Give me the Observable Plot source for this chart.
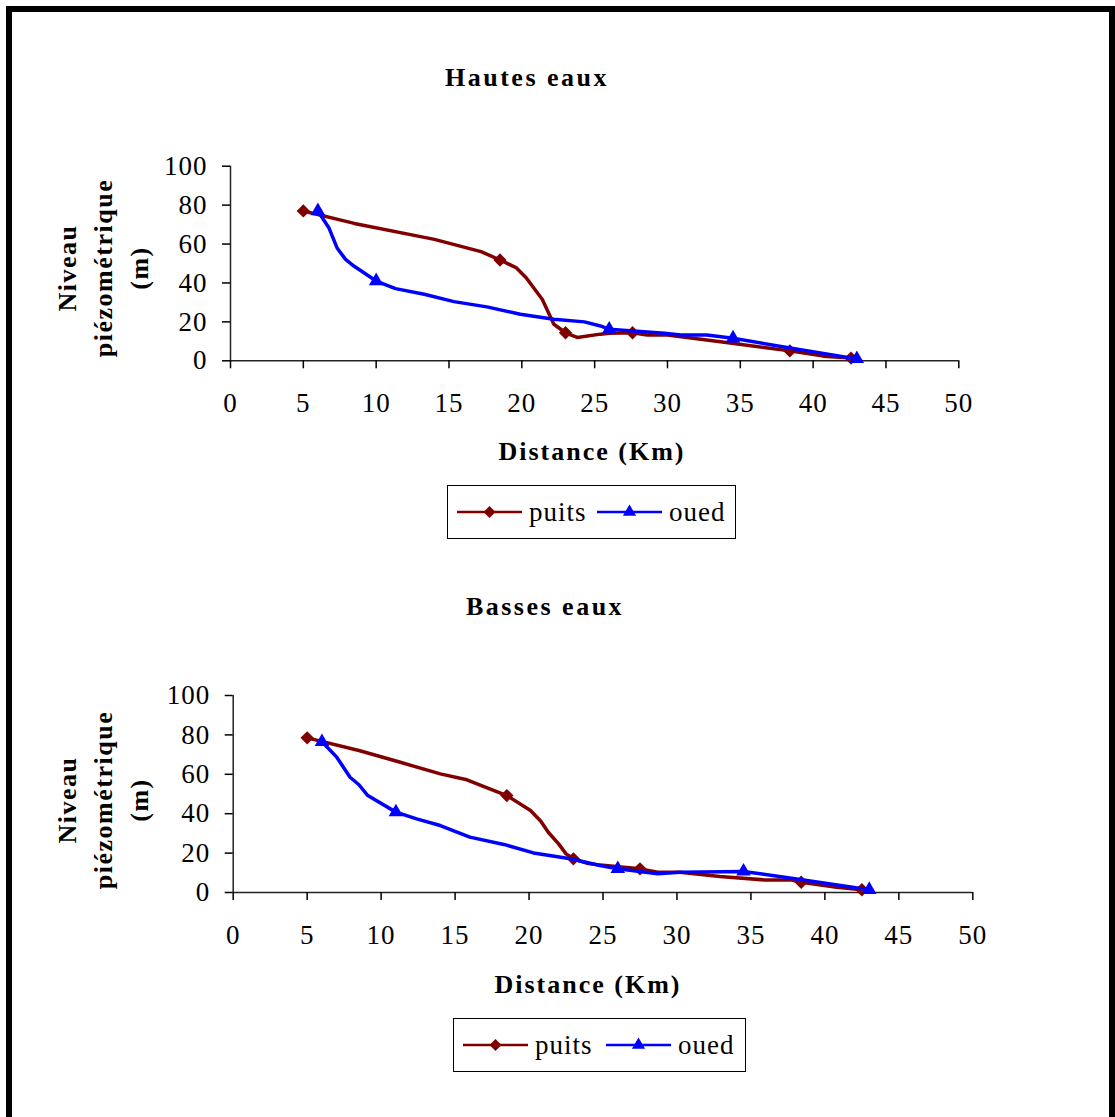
<!DOCTYPE html>
<html>
<head>
<meta charset="utf-8">
<script src="https://cdn.jsdelivr.net/npm/d3@7"></script>
<script src="https://cdn.jsdelivr.net/npm/@observablehq/plot@0.6"></script>
<style>
  html, body { margin: 0; padding: 0; background: white; }
  #page { position: relative; width: 1115px; height: 1117px; overflow: hidden; background: white;
          font-family: 'Liberation Serif', 'Times New Roman', serif; color: black; }
  #frame { position: absolute; left: 6px; top: 6px; width: 1109px; height: 1140px; box-sizing: border-box;
           border: 6px solid black; }
  .plotbox { position: absolute; left: 0; }
  .title { position: absolute; transform: translateX(-50%); font-weight: bold; font-size: 26px;
           letter-spacing: 2.5px; line-height: 1; white-space: nowrap; }
  .xlabel { position: absolute; transform: translateX(-50%); font-weight: bold; font-size: 26px;
            letter-spacing: 2px; line-height: 1; white-space: nowrap; }
  .ylabel { position: absolute; transform: translate(-50%, -50%) rotate(-90deg); font-weight: bold;
            font-size: 26px; letter-spacing: 1.5px; line-height: 36px; text-align: center; white-space: nowrap; }
  .legend { position: absolute; border: 1px solid black; box-sizing: border-box; background: white; }
</style>
</head>
<body>
<div id="page"><div id="frame"></div></div>
<script>
// ---------- data ----------
const xTicks = [0, 5, 10, 15, 20, 25, 30, 35, 40, 45, 50];
const yTicks = [0, 20, 40, 60, 80, 100];
const seriesNames = ["puits", "oued"];
const seriesColors = ["#800000", "#0000FF"];

// Hautes eaux — puits (path vertices and markers)
const hautesPuitsX = [5, 8.5, 14, 17.2, 18.5, 19.6, 20.3, 21.4, 22.2, 23, 23.8, 25.4, 26, 27.6, 28.6, 30, 34.3, 38.4, 40.7, 42.6];
const hautesPuitsY = [77, 70.6, 62.4, 56.1, 51.8, 47.9, 42.7, 31.6, 18.8, 14.4, 12, 13.7, 14.2, 14.4, 13.3, 13.3, 9.1, 5.1, 2.4, 1.4];
const hautesPuitsMarkX = [5, 18.5, 23, 27.6, 38.4, 42.6];
const hautesPuitsMarkY = [77, 51.8, 14.4, 14.4, 5.1, 1.4];
// Hautes eaux — oued
const hautesOuedX = [6, 6.75, 7.33, 7.9, 8.47, 10, 11.33, 13.3, 15.34, 17.6, 19.9, 22.2, 24.3, 25.4, 26, 29.8, 30.9, 32.7, 34.5, 38.2, 43];
const hautesOuedY = [77, 68.4, 57.8, 52.1, 48.7, 41, 37.1, 34.2, 30.4, 27.7, 23.9, 21.4, 20, 17.9, 16.2, 14.2, 13.3, 13.3, 11.6, 6.8, 1];
const hautesOuedMarkX = [6, 10, 26, 34.5, 43];
const hautesOuedMarkY = [77, 41, 16.2, 11.6, 1];

// Basses eaux — puits
const bassesPuitsX = [5, 8.5, 11.3, 14, 15.8, 18.5, 20.1, 20.8, 21.3, 22, 22.5, 23, 23.9, 24.8, 27.5, 28.7, 30.2, 32.9, 35.9, 37.7, 38.4, 40.8, 42.5];
const bassesPuitsY = [78.5, 72.1, 66.1, 60.2, 57.2, 49.2, 41.6, 36.2, 30.6, 24.7, 19.6, 17.1, 14.9, 13.9, 12, 10.3, 10.3, 8.1, 6.4, 6.4, 5.2, 2.7, 1.4];
const bassesPuitsMarkX = [5, 18.5, 23, 27.5, 38.4, 42.5];
const bassesPuitsMarkY = [78.5, 49.2, 17.1, 12, 5.2, 1.4];
// Basses eaux — oued
const bassesOuedX = [6, 7, 7.9, 8.5, 9.1, 11, 12.4, 14, 16, 18.3, 20.3, 22.8, 24.8, 26, 28.7, 30.2, 34.5, 38.1, 43];
const bassesOuedY = [76.5, 68.7, 58.5, 54.7, 49.2, 40.8, 37.4, 34, 28.1, 24.4, 20.1, 17.1, 13.7, 12, 9.5, 10.3, 10.7, 6.9, 1.4];
const bassesOuedMarkX = [6, 11, 26, 34.5, 43];
const bassesOuedMarkY = [76.5, 40.8, 12, 10.7, 1.4];

const titles = ["Hautes eaux", "Basses eaux"];
const xLabel = "Distance (Km)";
const yLabelLines = ["Niveau", "piézométrique", "(m)"];

// ---------- drawing ----------
const page = document.getElementById("page");
const DIAMOND_R = 6, TRIANGLE_R = 5.4;

function makeChart(cfg) {
  const svg = Plot.plot({
    width: 1115, height: 480,
    marginTop: cfg.mt, marginBottom: cfg.mb, marginLeft: cfg.ml, marginRight: cfg.mr,
    x: {domain: [0, 50]},
    y: {domain: [0, 100]},
    style: {fontFamily: "'Liberation Serif', 'Times New Roman', serif", fontSize: "27px",
            letterSpacing: "1px", color: "black", background: "transparent", overflow: "visible"},
    marks: [
      Plot.ruleY([0], {stroke: "#222", strokeWidth: 1.5}),
      Plot.ruleX([0], {stroke: "#222", strokeWidth: 1.5}),
      Plot.axisX({ticks: xTicks, tickSize: 8, tickPadding: 24, label: null, strokeWidth: 1.5}),
      Plot.axisY({ticks: yTicks, tickSize: 8, tickPadding: 15, label: null, strokeWidth: 1.5}),
      Plot.line(cfg.px, {x: cfg.px, y: cfg.py, stroke: seriesColors[0], strokeWidth: 3.5, curve: "linear"}),
      Plot.dot(cfg.pmx, {x: cfg.pmx, y: cfg.pmy, symbol: "diamond2", r: DIAMOND_R, fill: seriesColors[0], stroke: "none"}),
      Plot.line(cfg.ox, {x: cfg.ox, y: cfg.oy, stroke: seriesColors[1], strokeWidth: 3.5, curve: "linear"}),
      Plot.dot(cfg.omx, {x: cfg.omx, y: cfg.omy, symbol: "triangle", r: TRIANGLE_R, fill: seriesColors[1], stroke: "none"})
    ]
  });
  const box = document.createElement("div");
  box.className = "plotbox";
  box.style.top = cfg.top + "px";
  box.appendChild(svg);
  page.appendChild(box);

  const t = document.createElement("div");
  t.className = "title"; t.textContent = cfg.title;
  t.style.left = cfg.titleX + "px"; t.style.top = cfg.titleY + "px";
  page.appendChild(t);

  const xl = document.createElement("div");
  xl.className = "xlabel"; xl.textContent = xLabel;
  xl.style.left = cfg.xlX + "px"; xl.style.top = cfg.xlY + "px";
  page.appendChild(xl);

  const yl = document.createElement("div");
  yl.className = "ylabel"; yl.innerHTML = yLabelLines.join("<br>");
  yl.style.left = cfg.ylX + "px"; yl.style.top = cfg.ylY + "px";
  page.appendChild(yl);

  // legend
  const lg = document.createElement("div");
  lg.className = "legend";
  lg.style.left = cfg.lgX + "px"; lg.style.top = cfg.lgY + "px";
  lg.style.width = cfg.lgW + "px"; lg.style.height = "54px";
  page.appendChild(lg);
  const ls = d3.select(lg).append("svg").attr("width", cfg.lgW).attr("height", 52)
    .style("position", "absolute").style("left", "-1px").style("top", "-1px");
  const items = [
    {name: seriesNames[0], color: seriesColors[0], sym: d3.symbolDiamond2, size: Math.PI * 5.4 * 5.4, x0: 10},
    {name: seriesNames[1], color: seriesColors[1], sym: d3.symbolTriangle, size: Math.PI * 4.9 * 4.9, x0: cfg.lgSecond}
  ];
  for (const it of items) {
    ls.append("line").attr("x1", it.x0).attr("x2", it.x0 + 65).attr("y1", 27).attr("y2", 27)
      .attr("stroke", it.color).attr("stroke-width", 2.5);
    ls.append("path").attr("d", d3.symbol(it.sym, it.size)())
      .attr("transform", `translate(${it.x0 + 32.5},27)`).attr("fill", it.color);
    ls.append("text").attr("x", it.x0 + 72).attr("y", 36).text(it.name)
      .attr("font-family", "'Liberation Serif', 'Times New Roman', serif").attr("font-size", 27)
      .attr("letter-spacing", "1px").attr("fill", "black");
  }
}

makeChart({
  top: 0, mt: 165.7, mb: 480 - 360.3, ml: 230, mr: 1115 - 958.3,
  px: hautesPuitsX, py: hautesPuitsY, pmx: hautesPuitsMarkX, pmy: hautesPuitsMarkY,
  ox: hautesOuedX, oy: hautesOuedY, omx: hautesOuedMarkX, omy: hautesOuedMarkY,
  title: titles[0], titleX: 527, titleY: 65,
  xlX: 592, xlY: 439, ylX: 104, ylY: 268,
  lgX: 447, lgY: 485, lgW: 289, lgSecond: 150
});
makeChart({
  top: 530, mt: 165, mb: 530 + 480 - 892, ml: 232.7, mr: 1115 - 972.3,
  px: bassesPuitsX, py: bassesPuitsY, pmx: bassesPuitsMarkX, pmy: bassesPuitsMarkY,
  ox: bassesOuedX, oy: bassesOuedY, omx: bassesOuedMarkX, omy: bassesOuedMarkY,
  title: titles[1], titleX: 545, titleY: 594,
  xlX: 588, xlY: 972, ylX: 104, ylY: 800,
  lgX: 453, lgY: 1018, lgW: 293, lgSecond: 153
});
</script>
</body>
</html>
